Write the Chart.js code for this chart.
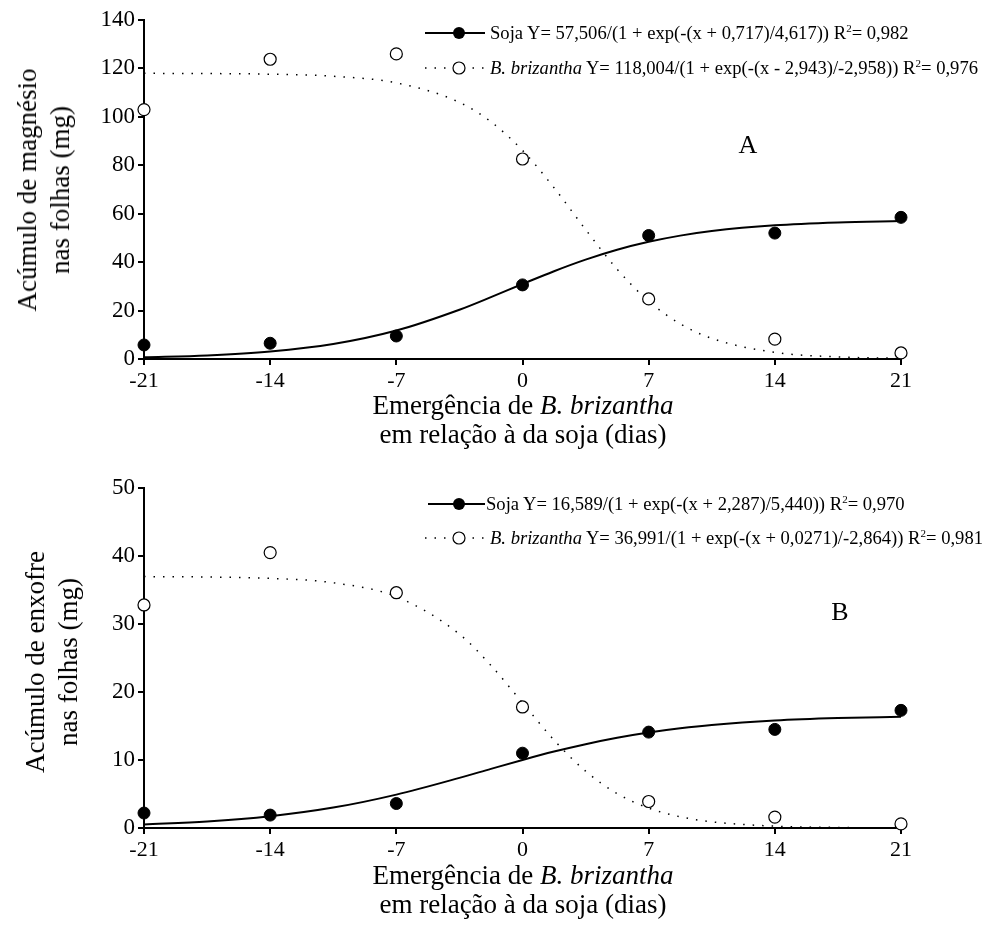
<!DOCTYPE html>
<html>
<head>
<meta charset="utf-8">
<script src="https://cdn.jsdelivr.net/npm/chart.js@4/dist/chart.umd.min.js"></script>
<style>
  body { margin: 0; background: #fff; }
  #page { position: relative; width: 990px; height: 942px; font-family: 'Liberation Serif', 'Times New Roman', serif; color: #000; }
  canvas { position: absolute; left: 0; }
  .t { position: absolute; white-space: nowrap; }
  .ytitle { font-size: 27px; line-height: 33px; text-align: center; transform: translate(-50%, -50%) rotate(-90deg); }
  .xtitle { font-size: 27px; line-height: 29px; text-align: center; transform: translate(-50%, -50%); }
  .leg { font-size: 18.6px; transform: translateY(-50%); }
  .leg sup { font-size: 11px; vertical-align: 7px; line-height: 0; }
  .panel { font-size: 26px; transform: translate(-50%, -50%); }
</style>
</head>
<body>
<div id="page">
  <canvas id="chartA" width="990" height="450" style="top:0"></canvas>
  <canvas id="chartB" width="990" height="492" style="top:450px"></canvas>

  <div class="t ytitle" style="left:44px;top:190px">Acúmulo de magnésio<br>nas folhas (mg)</div>
  <div class="t xtitle" style="left:523px;top:420px">Emergência de <i>B. brizantha</i><br>em relação à da soja (dias)</div>
  <div class="t leg" style="left:490px;top:33px">Soja Y= 57,506/(1 + exp(-(x + 0,717)/4,617)) R<sup>2</sup>= 0,982</div>
  <div class="t leg" style="left:490px;top:68px"><i>B. brizantha</i> Y= 118,004/(1 + exp(-(x - 2,943)/-2,958)) R<sup>2</sup>= 0,976</div>
  <div class="t panel" style="left:748px;top:145px">A</div>

  <div class="t ytitle" style="left:52px;top:662px">Acúmulo de enxofre<br>nas folhas (mg)</div>
  <div class="t xtitle" style="left:523px;top:890px">Emergência de <i>B. brizantha</i><br>em relação à da soja (dias)</div>
  <div class="t leg" style="left:486px;top:504px">Soja Y= 16,589/(1 + exp(-(x + 2,287)/5,440)) R<sup>2</sup>= 0,970</div>
  <div class="t leg" style="left:490px;top:538px"><i>B. brizantha</i> Y= 36,991/(1 + exp(-(x + 0,0271)/-2,864)) R<sup>2</sup>= 0,981</div>
  <div class="t panel" style="left:840px;top:612px">B</div>
</div>

<script>
// dias de emergência (eixo x)
const dias = [-21, -14, -7, 0, 7, 14, 21];

// A - magnésio (observado)
const sojaMgObs = [5.8, 6.5, 9.5, 30.6, 51.0, 52.0, 58.5];
const brizMgObs = [103.0, 123.8, 126.0, 82.6, 24.8, 8.2, 2.5];

// B - enxofre (observado)
const sojaSObs = [2.2, 1.9, 3.6, 11.0, 14.1, 14.5, 17.3];
const brizSObs = [32.8, 40.5, 34.6, 17.8, 3.9, 1.6, 0.6];

// curvas ajustadas
const curvaX = [-21, -17.5, -14, -10.5, -7, -3.5, -1.75, 0, 1.75, 3.5, 5.25, 7, 8.75, 10.5, 14, 17.5, 21];
const sojaMgFit = [0.70, 1.48, 3.07, 6.17, 11.74, 20.34, 25.55, 30.98, 36.26, 41.04, 45.12, 48.4, 50.95, 52.85, 55.23, 56.41, 56.99];
const brizMgFit = [117.97, 117.89, 117.62, 116.76, 114.04, 106.0, 97.96, 86.16, 70.74, 53.46, 37.09, 23.88, 14.53, 8.51, 2.74, 0.86, 0.26];
const sojaSFit = [0.52, 0.95, 1.73, 3.00, 4.91, 7.37, 8.70, 10.01, 11.24, 12.33, 13.27, 14.04, 14.66, 15.15, 15.80, 16.16, 16.36];
const brizSFit = [36.97, 36.91, 36.71, 36.06, 34.01, 28.51, 23.90, 18.41, 12.93, 8.36, 5.06, 2.93, 1.65, 0.91, 0.27, 0.08, 0.02];

const xTicks = [-21, -14, -7, 0, 7, 14, 21];

const pts = (xs, ys) => xs.map((x, i) => ({ x: x, y: ys[i] }));
const serif = "'Liberation Serif', 'Times New Roman', serif";

// amostras da legenda (linha + marcador)
const legendaPlugin = {
  id: 'legenda',
  afterDraw(chart, args, opts) {
    const ctx = chart.ctx;
    ctx.save();
    ctx.strokeStyle = '#000';
    // soja
    ctx.lineWidth = 2;
    ctx.setLineDash([]);
    ctx.beginPath();
    ctx.moveTo(opts.x0, opts.y1);
    ctx.lineTo(opts.x1, opts.y1);
    ctx.stroke();
    ctx.fillStyle = '#000';
    ctx.beginPath();
    ctx.arc(459, opts.y1, 6, 0, Math.PI * 2);
    ctx.fill();
    // brizantha
    ctx.lineWidth = 1.5;
    ctx.setLineDash([1.5, 8]);
    ctx.beginPath();
    ctx.moveTo(425, opts.y2);
    ctx.lineTo(opts.x1, opts.y2);
    ctx.stroke();
    ctx.setLineDash([]);
    ctx.lineWidth = 1.2;
    ctx.fillStyle = '#fff';
    ctx.beginPath();
    ctx.arc(459, opts.y2, 6, 0, Math.PI * 2);
    ctx.fill();
    ctx.stroke();
    ctx.restore();
  }
};

function montar(id, sojaObs, brizObs, sojaFit, brizFit, yMax, yStep, pad, xH, leg) {
  new Chart(document.getElementById(id), {
    type: 'scatter',
    data: {
      datasets: [
        { data: pts(dias, sojaObs), pointRadius: 6, pointBackgroundColor: '#000', pointBorderColor: '#000', order: 0 },
        { data: pts(dias, brizObs), pointRadius: 6, pointBackgroundColor: '#fff', pointBorderColor: '#000', pointBorderWidth: 1.2, order: 0 },
        { data: pts(curvaX, sojaFit), showLine: true, borderColor: '#000', borderWidth: 2, pointRadius: 0, cubicInterpolationMode: 'monotone', order: 1 },
        { data: pts(curvaX, brizFit), showLine: true, borderColor: '#000', borderWidth: 1.5, borderDash: [1.5, 8], pointRadius: 0, cubicInterpolationMode: 'monotone', order: 1 }
      ]
    },
    options: {
      responsive: false,
      animation: false,
      clip: false,
      layout: { padding: { left: 0, right: 89, top: pad, bottom: 0 } },
      plugins: { legend: { display: false }, tooltip: { enabled: false }, legenda: leg },
      scales: {
        x: {
          type: 'linear', min: -21, max: 21,
          afterBuildTicks: s => { s.ticks = xTicks.map(v => ({ value: v })); },
          afterFit: s => { s.height = xH; },
          border: { display: true, color: '#000', width: 2 },
          grid: { drawOnChartArea: false, drawTicks: true, tickLength: 6, color: '#000', lineWidth: 2 },
          ticks: { color: '#000', font: { family: serif, size: 22 }, padding: 3, maxRotation: 0 }
        },
        y: {
          min: 0, max: yMax,
          afterFit: s => { s.width = 144; },
          border: { display: true, color: '#000', width: 2 },
          grid: { drawOnChartArea: false, drawTicks: true, tickLength: 6, color: '#000', lineWidth: 2 },
          ticks: { color: '#000', font: { family: serif, size: 23 }, stepSize: yStep, padding: 3 }
        }
      }
    },
    plugins: [legendaPlugin]
  });
}

montar('chartA', sojaMgObs, brizMgObs, sojaMgFit, brizMgFit, 140, 20, 20, 91, { x0: 425, x1: 485, y1: 33, y2: 68 });
montar('chartB', sojaSObs, brizSObs, sojaSFit, brizSFit, 50, 10, 38, 114, { x0: 428, x1: 485, y1: 54, y2: 88 });
</script>
</body>
</html>
